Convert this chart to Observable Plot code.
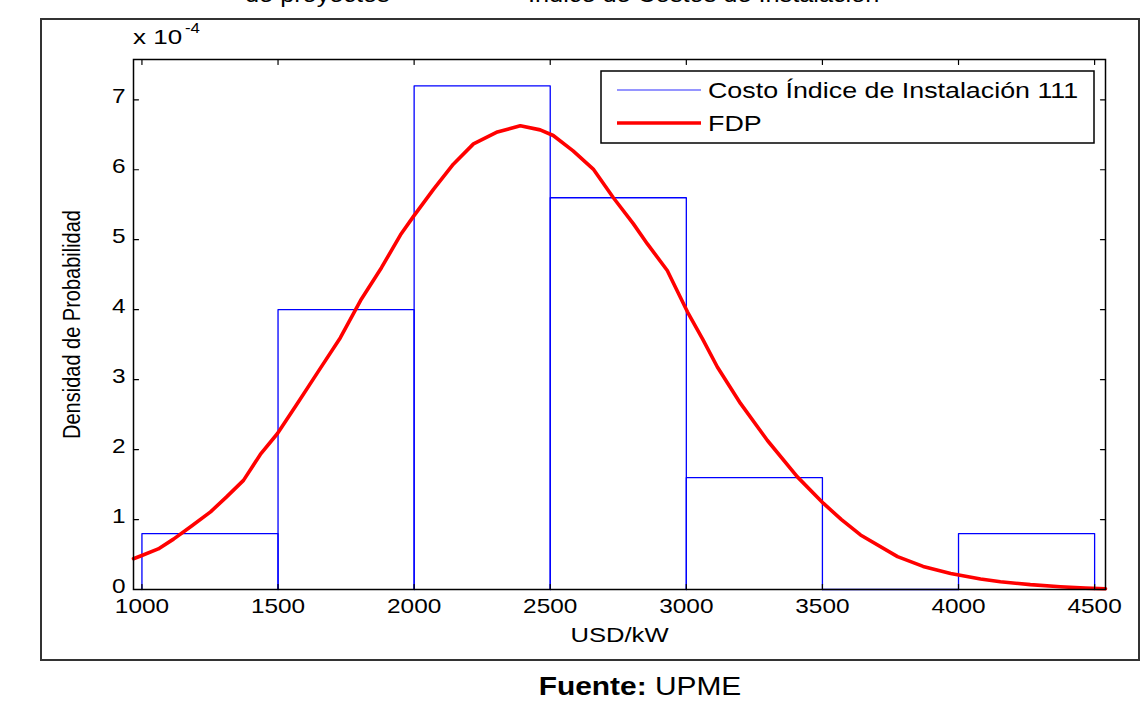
<!DOCTYPE html>
<html>
<head>
<meta charset="utf-8">
<script src="https://cdn.jsdelivr.net/npm/d3@7"></script>
<script src="https://cdn.jsdelivr.net/npm/@observablehq/plot@0.6"></script>
<style>
  html, body { margin: 0; padding: 0; background: #fff; }
  #page { position: relative; width: 1145px; height: 710px; overflow: hidden; font-family: "Liberation Sans", Arial, sans-serif; }
  #page > svg { position: absolute; left: 0; top: 0; }
  #overlay { pointer-events: none; }
</style>
</head>
<body>
<div id="page"></div>
<script>
// ---- data (y values in units of 10^-4, as on the axis) ----
const binEdges   = [1000, 1500, 2000, 2500, 3000, 3500, 4000, 4500];
const binDensity = [0.8, 4.0, 7.2, 5.6, 1.6, 0.0, 0.8];

const fdpX = [969, 1002, 1060, 1116, 1180, 1252, 1310, 1373, 1435, 1498, 1571, 1645, 1729, 1803, 1880, 1950, 1997,
              2071, 2144, 2218, 2306, 2390, 2463, 2511, 2584, 2658, 2732, 2805, 2857, 2930, 3004, 3060, 3114, 3199,
              3298, 3408, 3504, 3570, 3640, 3776, 3870, 3971, 4081, 4154, 4264, 4374, 4466, 4540];
const fdpY = [0.44, 0.49, 0.58, 0.72, 0.90, 1.11, 1.32, 1.56, 1.93, 2.23, 2.66, 3.10, 3.60, 4.13, 4.60, 5.07, 5.33,
              5.72, 6.08, 6.37, 6.54, 6.63, 6.57, 6.49, 6.27, 6.01, 5.60, 5.23, 4.94, 4.56, 3.97, 3.58, 3.18, 2.66,
              2.13, 1.61, 1.23, 1.00, 0.78, 0.47, 0.33, 0.23, 0.15, 0.11, 0.07, 0.04, 0.02, 0.01];

const xTicks = [1000, 1500, 2000, 2500, 3000, 3500, 4000, 4500];
const yTicks = [0, 1, 2, 3, 4, 5, 6, 7];
const xDomain = [969, 4540];
const yDomain = [0, 7.576];

const xLabel = "USD/kW";
const yLabel = "Densidad de Probabilidad";
const exponentBase = "x 10";
const exponentPow = "-4";
const legendLabels = ["Costo Índice de Instalación 111", "FDP"];
const legendColors = ["#0000ff", "#ff0000"];
const titleParts = ["de proyectos", "Índice de Costos de Instalación"];
const sourceBold = "Fuente:";
const sourceText = " UPME";

// ---- derived tables ----
const bars = [];
binDensity.forEach((h, i) => {
  const a = binEdges[i], b = binEdges[i + 1];
  bars.push({bin: i, x: a, y: 0}, {bin: i, x: a, y: h}, {bin: i, x: b, y: h}, {bin: i, x: b, y: 0});
});
const fdp = fdpX.map((x, i) => ({x, y: fdpY[i]}));

const tickShape = {draw(ctx, l) { ctx.moveTo(0, 0); ctx.lineTo(0, -l); }};
const tickOpts = {length: 5, anchor: "start", shape: tickShape, stroke: "#000", strokeWidth: 1.2};
const SX = 1.22;

const chart = Plot.plot({
  width: 1145,
  height: 710,
  marginLeft: 133,
  marginRight: 40,
  marginTop: 59,
  marginBottom: 121,
  style: {fontFamily: "'Liberation Sans', Arial, sans-serif", background: "transparent", color: "#000"},
  x: {domain: xDomain, axis: null},
  y: {domain: yDomain, axis: null},
  marks: [
    Plot.line(bars, {x: "x", y: "y", z: "bin", stroke: legendColors[0], strokeWidth: 1.3}),
    Plot.line(fdp, {x: "x", y: "y", stroke: legendColors[1], strokeWidth: 3.6, strokeLinejoin: "round"}),
    Plot.frame({stroke: "#000", strokeWidth: 1.5}),
    Plot.vector(xTicks, {x: d => d, frameAnchor: "bottom", rotate: 0, ...tickOpts}),
    Plot.vector(xTicks, {x: d => d, frameAnchor: "top", rotate: 180, ...tickOpts}),
    Plot.vector(yTicks, {y: d => d, frameAnchor: "left", rotate: 90, ...tickOpts}),
    Plot.vector(yTicks, {y: d => d, frameAnchor: "right", rotate: -90, ...tickOpts}),
    Plot.text(xTicks, {x: d => d, frameAnchor: "bottom", lineAnchor: "top", dy: 9, text: d => String(d), fontSize: 20, fill: "#000"}),
    Plot.text(yTicks, {y: d => d, frameAnchor: "left", textAnchor: "end", dx: -8, dy: -3, text: d => String(d), fontSize: 20, fill: "#000"}),
    Plot.text([xLabel], {frameAnchor: "bottom", textAnchor: "middle", lineAnchor: "middle", dy: 46, text: d => d, fontSize: 21, fill: "#000"}),
    Plot.text([yLabel], {frameAnchor: "left", textAnchor: "middle", lineAnchor: "middle", dx: -61, rotate: -90, text: d => d, fontSize: 20, fill: "#000"})
  ]
});

// horizontal stretch of text, as in the reference image
chart.querySelectorAll("text").forEach(t => {
  const tr = t.getAttribute("transform");
  if (tr && /^translate\([^)]*\)/.test(tr)) {
    t.setAttribute("transform", tr.replace(/^(translate\([^)]*\))/, `$1 scale(${SX},1)`));
  }
});

const page = document.getElementById("page");
page.appendChild(chart);

// ---- overlay: outer frame, exponent, legend, title fragments, source ----
const ov = d3.select(page).append("svg").attr("id", "overlay")
  .attr("width", 1145).attr("height", 710)
  .style("font-family", "'Liberation Sans', Arial, sans-serif");

ov.append("rect").attr("x", 41).attr("y", 19).attr("width", 1098).attr("height", 641)
  .attr("fill", "none").attr("stroke", "#333").attr("stroke-width", 2);

// title fragments (cut off at top, as in the reference)
ov.append("text").attr("transform", `translate(245,2) scale(1.15,1)`).attr("font-size", 22).text(titleParts[0]);
ov.append("text").attr("transform", `translate(528,2) scale(1.15,1)`).attr("font-size", 22).text(titleParts[1]);

// exponent
ov.append("text").attr("transform", `translate(133,44) scale(1.3,1)`).attr("font-size", 20).text(exponentBase);
ov.append("text").attr("transform", `translate(185,33) scale(1.2,1)`).attr("font-size", 14).text(exponentPow);

// legend
const lg = ov.append("g");
lg.append("rect").attr("x", 601).attr("y", 71).attr("width", 493).attr("height", 72)
  .attr("fill", "#fff").attr("stroke", "#000").attr("stroke-width", 1.5);
const legendY = [90, 123];
const legendW = [1.5, 3.6];
legendLabels.forEach((lab, i) => {
  lg.append("line").attr("x1", 617).attr("x2", 701).attr("y1", legendY[i]).attr("y2", legendY[i])
    .attr("stroke", legendColors[i]).attr("stroke-width", legendW[i]).attr("opacity", i === 0 ? 0.55 : 1);
  lg.append("text").attr("transform", `translate(708,${legendY[i] + 7.5}) scale(${SX},1)`)
    .attr("font-size", 22).attr("fill", "#000").text(lab);
});

// source
const src = ov.append("text").attr("transform", `translate(640,695) scale(1.15,1)`)
  .attr("text-anchor", "middle").attr("font-size", 26).attr("fill", "#000");
src.append("tspan").attr("font-weight", "bold").text(sourceBold);
src.append("tspan").text(sourceText);
</script>
</body>
</html>
